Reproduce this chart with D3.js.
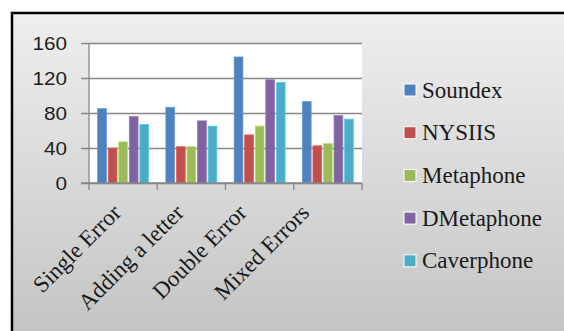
<!DOCTYPE html>
<html>
<head>
<meta charset="utf-8">
<script src="https://cdn.jsdelivr.net/npm/d3@7/dist/d3.min.js"></script>
<style>
  html, body { margin: 0; padding: 0; background: #ffffff; }
  svg { display: block; }
</style>
</head>
<body>
<svg id="chart" width="564" height="331"></svg>
<script>
// Phonetic matching algorithms compared over four kinds of misspelling
const categories = ["Single Error", "Adding a letter", "Double Error", "Mixed Errors"];
const seriesNames = ["Soundex", "NYSIIS", "Metaphone", "DMetaphone", "Caverphone"];
const soundex    = [85, 86.5, 144, 93];
const nysiis     = [40, 41.5, 55, 42.5];
const metaphone  = [47, 41.5, 65, 45];
const dmetaphone = [76, 71, 118, 77];
const caverphone = [67, 65, 115, 73];
const yTicks = [0, 40, 80, 120, 160];
const colors = ["#4f81bd", "#c0504d", "#9bbb59", "#8064a2", "#4bacc6"];

const seriesValues = [soundex, nysiis, metaphone, dmetaphone, caverphone];

const svg = d3.select("#chart");
const W = 564, H = 331;

// Chart frame with a soft vertical grey gradient
const defs = svg.append("defs");
const bgGrad = defs.append("linearGradient")
  .attr("id", "bg").attr("x1", 0).attr("y1", 0).attr("x2", 0).attr("y2", 1);
bgGrad.append("stop").attr("offset", "0%").attr("stop-color", "#efefef");
bgGrad.append("stop").attr("offset", "100%").attr("stop-color", "#c3c3c3");

svg.append("rect")
  .attr("x", 12).attr("y", 13)
  .attr("width", W).attr("height", H)
  .attr("fill", "url(#bg)")
  .attr("stroke", "#000").attr("stroke-width", 2.5);

// Plot area
const plot = { left: 89, right: 362, top: 43, bottom: 183 };

const x0 = d3.scaleBand()
  .domain(categories)
  .range([plot.left, plot.right])
  .paddingInner(0.253)
  .paddingOuter(0.1265);

const x1 = d3.scaleBand()
  .domain(seriesNames)
  .range([0, x0.bandwidth()])
  .paddingInner(0.17)
  .paddingOuter(0);

const y = d3.scaleLinear().domain([0, 160]).range([plot.bottom, plot.top]);

svg.append("rect")
  .attr("x", plot.left).attr("y", plot.top)
  .attr("width", plot.right - plot.left).attr("height", plot.bottom - plot.top)
  .attr("fill", "#ffffff");

// Horizontal gridlines / y ticks
const yAxis = d3.axisLeft(y)
  .tickValues(yTicks)
  .tickSize(-(plot.right - plot.left))
  .tickPadding(22)
  .tickFormat(d3.format("d"));

const yG = svg.append("g")
  .attr("transform", `translate(${plot.left},0)`)
  .call(yAxis);
yG.select(".domain").remove();
yG.selectAll(".tick line")
  .attr("x1", -8)
  .attr("stroke", "#878787").attr("stroke-width", 1.3);
yG.selectAll(".tick text")
  .attr("fill", "#1e1e1e")
  .style("font-family", "'Liberation Sans', Arial, sans-serif")
  .style("font-size", "18.5px")
  .attr("dy", "0.36em")
  .attr("transform", "translate(-22,0) scale(1.12,1) translate(22,0)");

// Bars, grouped by category
const groups = svg.append("g").selectAll("g")
  .data(categories)
  .join("g")
  .attr("transform", d => `translate(${x0(d)},0)`);

groups.selectAll("rect")
  .data((c, ci) => seriesNames.map((s, si) => ({ s, si, v: seriesValues[si][ci] })))
  .join("rect")
  .attr("x", d => x1(d.s))
  .attr("y", d => y(d.v))
  .attr("width", x1.bandwidth())
  .attr("height", d => y(0) - y(d.v))
  .attr("fill", d => colors[d.si])
  .attr("stroke", d => d3.color(colors[d.si]).brighter(0.5))
  .attr("stroke-width", 0.8);

// Vertical axis line
svg.append("line")
  .attr("x1", plot.left).attr("x2", plot.left)
  .attr("y1", plot.top).attr("y2", plot.bottom)
  .attr("stroke", "#878787").attr("stroke-width", 1.3);

// Category axis with boundary ticks
const xAxisG = svg.append("g");
xAxisG.append("line")
  .attr("x1", plot.left - 8).attr("x2", plot.right)
  .attr("y1", y(0)).attr("y2", y(0))
  .attr("stroke", "#878787").attr("stroke-width", 1.3);

const step = x0.step();
const boundaries = d3.range(categories.length + 1).map(i => x0(categories[0]) - x0.paddingOuter() * step + i * step);
xAxisG.selectAll("line.bt")
  .data(boundaries)
  .join("line")
  .attr("class", "bt")
  .attr("x1", d => d).attr("x2", d => d)
  .attr("y1", y(0)).attr("y2", y(0) + 7)
  .attr("stroke", "#878787").attr("stroke-width", 1.3);

// Rotated category labels, packed slightly toward the middle of the axis
const midX = (plot.left + plot.right) / 2;
const labelX = d => midX + (x0(d) + x0.bandwidth() / 2 - midX) * 0.92 - 9;
xAxisG.selectAll("text")
  .data(categories)
  .join("text")
  .attr("transform", d => `translate(${labelX(d)},${y(0) + 31}) rotate(-45)`)
  .attr("text-anchor", "end")
  .attr("fill", "#1a1a1a")
  .style("font-family", "'Liberation Serif', 'Times New Roman', serif")
  .style("font-size", "23px")
  .text(d => d);

// Legend
const legend = svg.append("g").selectAll("g")
  .data(seriesNames)
  .join("g")
  .attr("transform", (d, i) => `translate(404,${90 + i * 42.7})`);

legend.append("rect")
  .attr("x", 0).attr("y", -6)
  .attr("width", 12).attr("height", 12)
  .attr("fill", (d, i) => colors[i])
  .attr("stroke", "#ffffff").attr("stroke-width", 1);

legend.append("text")
  .attr("x", 18).attr("y", 0).attr("dy", "0.33em")
  .attr("fill", "#1a1a1a")
  .style("font-family", "'Liberation Serif', 'Times New Roman', serif")
  .style("font-size", "23px")
  .text(d => d);
</script>
</body>
</html>
